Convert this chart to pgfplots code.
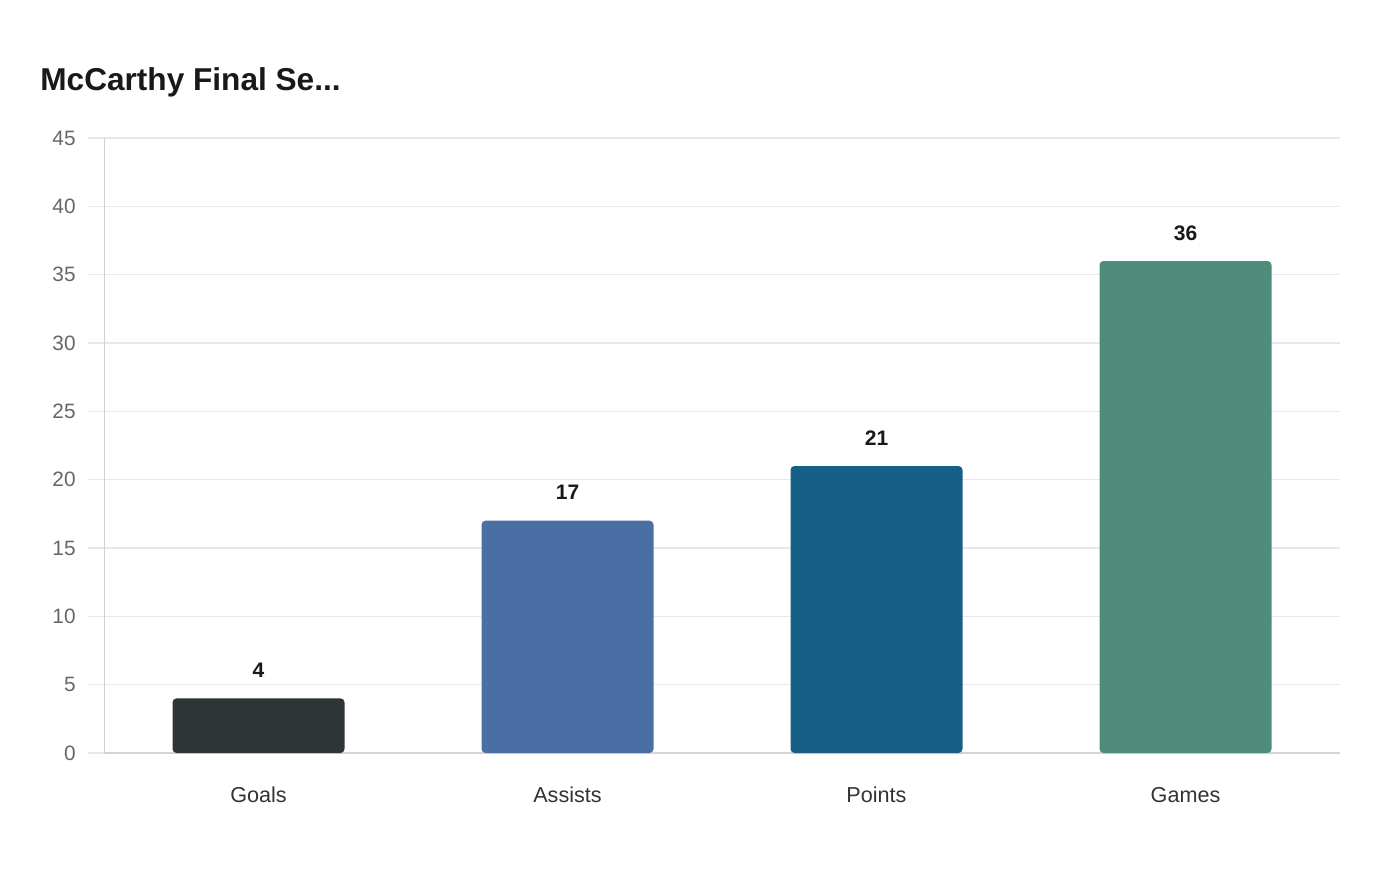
\documentclass[border=0pt]{standalone}
\usepackage{pgfplots}
\pgfplotsset{compat=1.18}
\usepackage{fontspec}
\setmainfont{Liberation Sans}
\definecolor{cGoals}{HTML}{2F3537}
\definecolor{cAssists}{HTML}{4A6FA5}
\definecolor{cPoints}{HTML}{166088}
\definecolor{cGames}{HTML}{4F8C7B}
\definecolor{gridc}{HTML}{E8E8E8}
\definecolor{axc}{HTML}{D4D4D4}
\begin{document}
\begin{tikzpicture}
\useasboundingbox[fill=white] (0,0) rectangle (700pt,440pt);
\node[anchor=base west, font=\fontsize{15.8pt}{18pt}\selectfont\bfseries, text=black!90, inner sep=0pt] at (20pt,394.5pt) {McCarthy Final Se...};
\begin{axis}[
  at={(52pt,63.5pt)}, anchor=south west,
  scale only axis, width=618pt, height=307.5pt,
  xmin=-0.5, xmax=3.5, ymin=0, ymax=45,
  ytick={0,5,...,45},
  xtick={0,1,2,3},
  xticklabels={Goals,Assists,Points,Games},
  axis lines=left, axis line style={-},
  x axis line style={draw=axc, line width=0.8pt},
  y axis line style={draw=gridc!90!black, line width=0.5pt},
  ymajorgrids, grid style={draw=gridc, line width=0.6pt},
  tick align=outside, major tick length=8pt,
  ytick style={draw=gridc, line width=0.6pt},
  xtick style={draw=none},
  yticklabel style={font=\fontsize{10.4pt}{12pt}\selectfont, text=black!60, anchor=east, inner sep=0pt, xshift=-6pt},
  xticklabel style={font=\fontsize{10.8pt}{13pt}\selectfont, text=black!80, anchor=base, inner sep=0pt, yshift=-16.5pt},
  /pgf/number format/assume math mode=true,
  ybar, bar width=86pt, bar shift=0pt,
  nodes near coords,
  every node near coord/.append style={font=\fontsize{10.5pt}{12pt}\selectfont\bfseries, text=black!90, anchor=base, yshift=10.5pt, inner sep=0pt},
  clip=false,
]
\addplot[fill=cGoals, draw=none, rounded corners=2pt] coordinates {(0,4)};
\addplot[fill=cAssists, draw=none, rounded corners=2pt] coordinates {(1,17)};
\addplot[fill=cPoints, draw=none, rounded corners=2pt] coordinates {(2,21)};
\addplot[fill=cGames, draw=none, rounded corners=2pt] coordinates {(3,36)};
\end{axis}
\end{tikzpicture}
\end{document}
